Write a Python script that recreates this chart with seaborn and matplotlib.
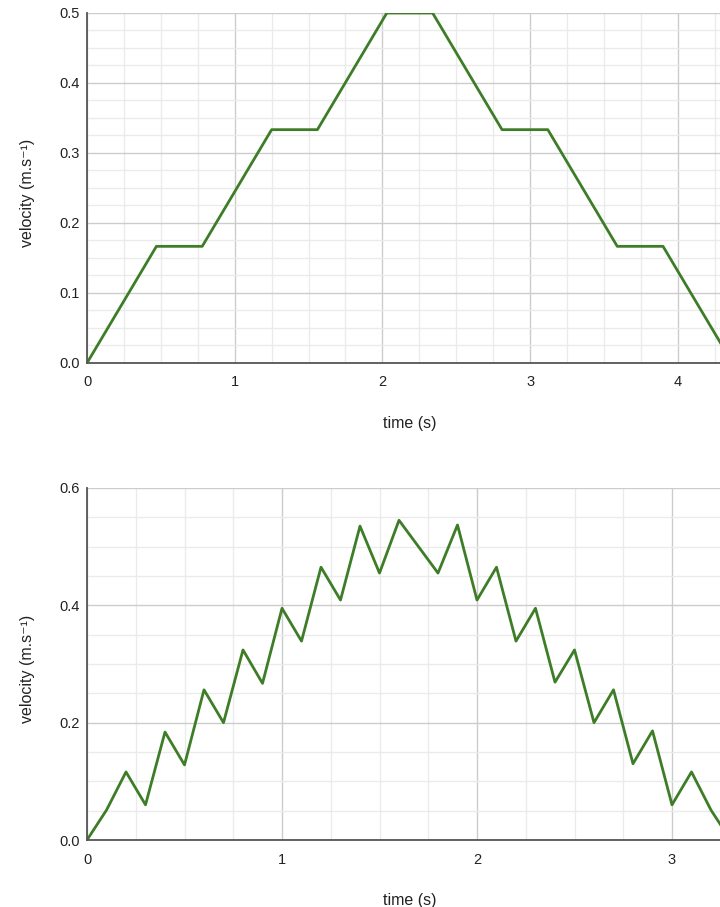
import numpy as np
import pandas as pd
import matplotlib
matplotlib.use("Agg")
import matplotlib.pyplot as plt
from matplotlib.ticker import MultipleLocator
import seaborn as sns

# ---- data ----
t_top = [0.0, 0.47, 0.78, 1.25, 1.56, 2.03, 2.34, 2.81, 3.12, 3.59, 3.90, 4.37]
v_top = [0.0, 1/6, 1/6, 1/3, 1/3, 0.5, 0.5, 1/3, 1/3, 1/6, 1/6, 0.0]

t_bot = [0.0, 0.1, 0.2, 0.3, 0.4, 0.5, 0.6, 0.7, 0.8, 0.9, 1.0, 1.1, 1.2, 1.3,
         1.4, 1.5, 1.6, 1.7, 1.8, 1.9, 2.0, 2.1, 2.2, 2.3, 2.4, 2.5, 2.6, 2.7,
         2.8, 2.9, 3.0, 3.1, 3.2, 3.3]
v_bot = [0.0, 0.051, 0.116, 0.06, 0.184, 0.128, 0.256, 0.2, 0.324, 0.267,
         0.395, 0.339, 0.465, 0.409, 0.535, 0.455, 0.545, 0.50, 0.455, 0.537,
         0.409, 0.465, 0.339, 0.395, 0.269, 0.324, 0.2, 0.256, 0.13, 0.186,
         0.06, 0.116, 0.051, 0.0]

x_label = "time (s)"
y_label = "velocity (m.s\u207b\u00b9)"

top_xticks = [0, 1, 2, 3, 4]
top_yticks = [0.0, 0.1, 0.2, 0.3, 0.4, 0.5]
bot_xticks = [0, 1, 2, 3]
bot_yticks = [0.0, 0.2, 0.4, 0.6]

# ---- style ----
sns.set_theme(style="white")
plt.rcParams['font.family'] = ['Liberation Sans', 'DejaVu Sans']

LINE = "#3e7d27"
MAJ = "#cccccc"
MIN = "#ebebeb"
SPINE = "#555555"
TXT = "#222222"

fig = plt.figure(figsize=(7.2, 9.07), dpi=100)
W, H = 720, 907

def add_ax(left, top, right, bottom):
    return fig.add_axes([left / W, 1 - bottom / H, (right - left) / W, (bottom - top) / H])

ax1 = add_ax(87, 13, 720, 363)
ax2 = add_ax(87, 488, 720, 840)

def style(ax, xlim, ylim, xticks, yticks, xminor, yminor, fmt, height_px):
    ax.set_xlim(*xlim)
    ax.set_ylim(*ylim)
    ax.set_xticks(xticks)
    ax.set_yticks(yticks)
    ax.set_yticklabels([fmt.format(v) for v in yticks])
    ax.set_xticklabels([str(v) for v in xticks])
    ax.xaxis.set_minor_locator(MultipleLocator(xminor))
    ax.yaxis.set_minor_locator(MultipleLocator(yminor))
    ax.grid(which="major", color=MAJ, lw=1.0, zorder=0)
    ax.grid(which="minor", color=MIN, lw=1.0, zorder=0)
    ax.set_axisbelow(True)
    for s in ["top", "right"]:
        ax.spines[s].set_visible(False)
    for s in ["left", "bottom"]:
        ax.spines[s].set_color(SPINE)
        ax.spines[s].set_linewidth(1.3)
        ax.spines[s].set_zorder(3)
    ax.tick_params(axis="both", which="both", length=0, labelsize=10.5, colors=TXT)
    ax.tick_params(axis="x", pad=9)
    ax.tick_params(axis="y", pad=5)
    ax.set_xlabel(x_label, fontsize=11.5, color=TXT, labelpad=19)
    ax.set_ylabel(y_label, fontsize=11.5, color=TXT, labelpad=18)
    # the plot area of the original continues past the right edge of the image
    ax.xaxis.label.set_x((410 - 87) / 633)
    ax.yaxis.label.set_y(0.5 - 4.5 / height_px)

df_top = pd.DataFrame({"t": t_top, "v": v_top})
df_bot = pd.DataFrame({"t": t_bot, "v": v_bot})

sns.lineplot(data=df_top, x="t", y="v", ax=ax1, color=LINE, lw=2.0, zorder=2)
sns.lineplot(data=df_bot, x="t", y="v", ax=ax2, color=LINE, lw=2.0, zorder=2)

style(ax1, (0, (720 - 87) / 147.7), (0, 0.5), top_xticks, top_yticks, 0.25, 0.025, "{:.1f}", 350)
style(ax2, (0, (720 - 87) / 195.0), (0, 0.6), bot_xticks, bot_yticks, 0.25, 0.05, "{:.1f}", 352)

fig.savefig("out.png", dpi=100, facecolor="white")
